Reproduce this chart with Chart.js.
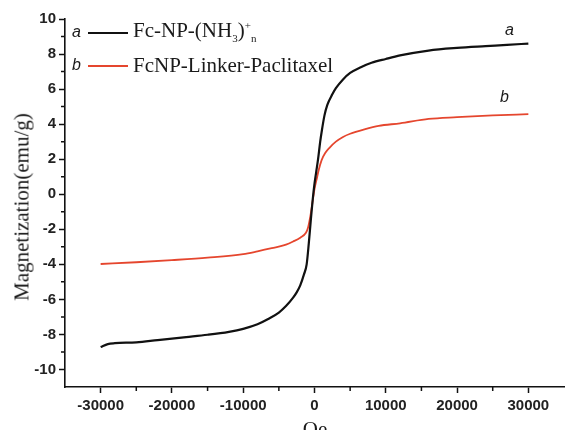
<!DOCTYPE html>
<html>
<head>
<meta charset="utf-8">
<script src="https://cdn.jsdelivr.net/npm/chart.js@4/dist/chart.umd.min.js"></script>
<style>
    html, body { margin: 0; padding: 0; background: #fff; }
    #wrap { position: relative; width: 565px; height: 430px; overflow: hidden; }
    #chart { position: absolute; left: 0; top: 0; }
    .serif { position: absolute; font-family: "Liberation Serif", "Times New Roman", serif; color: #1a1a1a; white-space: nowrap; }
    .tag { position: absolute; font-family: "Liberation Sans", Arial, sans-serif; font-style: italic; font-size: 16px; color: #1a1a1a; }
    .swatch { position: absolute; height: 0; width: 40px; }
    #yTitle { left: 22px; top: 207px; font-size: 21px; transform: translate(-50%, -50%) rotate(-90deg); }
    #xTitle { left: 315px; top: 417px; font-size: 21px; transform: translateX(-50%); }
    sub, sup { font-size: 11px; }
</style>
</head>
<body>
<div id="wrap">
    <canvas id="chart" width="565" height="430"></canvas>
    <div class="serif" id="yTitle">Magnetization(emu/g)</div>
    <div class="serif" id="xTitle">Oe</div>

    <span class="tag" style="left:72px; top:23px;">a</span>
    <div class="swatch" style="left:88px; top:32px; border-top:2px solid #111;"></div>
    <div class="serif" style="left:133px; top:18px; font-size:21px;">Fc-NP-(NH<sub>3</sub>)<sup>+</sup><sub>n</sub></div>

    <span class="tag" style="left:72px; top:56px;">b</span>
    <div class="swatch" style="left:88px; top:65px; border-top:2px solid #e5462e;"></div>
    <div class="serif" style="left:133px; top:53px; font-size:21px;">FcNP-Linker-Paclitaxel</div>

    <span class="tag" style="left:505px; top:21px;">a</span>
    <span class="tag" style="left:500px; top:88px;">b</span>
</div>
<script>
    // Series a: Fc-NP-(NH3)+n
    const fieldA = [-30000, -29000, -28000, -25000, -22000, -18000, -15000, -12000, -10000, -8000,
        -6500, -5000, -4000, -3000, -2500, -2000, -1500, -1100, -800, -500,
        -250, 0, 250, 500, 800, 1000, 1400, 1800, 2500, 3000,
        4000, 5000, 6500, 8000, 10000, 12000, 16000, 20000, 24000, 27000, 30000];
    const magA = [-8.72, -8.55, -8.5, -8.45, -8.32, -8.15, -8.02, -7.85, -7.68, -7.42,
        -7.12, -6.75, -6.38, -5.9, -5.6, -5.2, -4.6, -4.0, -2.8, -1.4,
        -0.3, 0.6, 1.3, 2.0, 3.0, 3.55, 4.5, 5.1, 5.7, 6.05,
        6.55, 6.92, 7.25, 7.5, 7.72, 7.92, 8.2, 8.35, 8.45, 8.52, 8.6];

    // Series b: FcNP-Linker-Paclitaxel
    const fieldB = [-30000, -25000, -20000, -15000, -10000, -8000, -6000, -4000, -3000, -2000,
        -1200, -900, -600, -300, 0, 300, 600, 1000, 1500, 2100,
        3000, 4000, 5000, 7000, 9000, 12000, 16000, 20000, 25000, 30000];
    const magB = [-3.98, -3.88, -3.76, -3.62, -3.42, -3.26, -3.08, -2.88, -2.7, -2.48,
        -2.2, -1.9, -1.3, -0.5, 0.3, 0.85, 1.4, 1.95, 2.35, 2.65,
        3.0, 3.27, 3.45, 3.7, 3.9, 4.05, 4.3, 4.4, 4.5, 4.57];

    const xMajor = [-30000, -20000, -10000, 0, 10000, 20000, 30000];
    const yMajor = [-10, -8, -6, -4, -2, 0, 2, 4, 6, 8, 10];

    const toPoints = (xs, ys) => xs.map((x, i) => ({ x: x, y: ys[i] }));

    // short minor tick marks between the labelled ones
    const minorTicks = {
        id: 'minorTicks',
        afterDraw(chart) {
            const ctx = chart.ctx;
            const xs = chart.scales.x;
            const ys = chart.scales.y;
            ctx.save();
            ctx.strokeStyle = '#111';
            ctx.lineWidth = 1.5;
            ctx.beginPath();
            for (let v = -25000; v <= 25000; v += 10000) {
                const px = xs.getPixelForValue(v);
                ctx.moveTo(px, xs.top);
                ctx.lineTo(px, xs.top + 4);
            }
            for (let v = -9; v <= 9; v += 2) {
                const py = ys.getPixelForValue(v);
                ctx.moveTo(ys.right, py);
                ctx.lineTo(ys.right - 4, py);
            }
            ctx.stroke();
            ctx.restore();
        }
    };

    new Chart(document.getElementById('chart').getContext('2d'), {
        type: 'scatter',
        data: {
            datasets: [{
                label: 'a',
                data: toPoints(fieldA, magA),
                showLine: true,
                borderColor: '#111',
                borderWidth: 2.2,
                pointRadius: 0,
                cubicInterpolationMode: 'monotone'
            }, {
                label: 'b',
                data: toPoints(fieldB, magB),
                showLine: true,
                borderColor: '#e5462e',
                borderWidth: 1.8,
                pointRadius: 0,
                cubicInterpolationMode: 'monotone'
            }]
        },
        options: {
            responsive: false,
            animation: false,
            layout: { padding: { top: 19, right: 1, left: 0, bottom: 0 } },
            plugins: {
                legend: { display: false },
                tooltip: { enabled: false }
            },
            scales: {
                x: {
                    type: 'linear',
                    min: -35000,
                    max: 35000,
                    afterBuildTicks: scale => { scale.ticks = xMajor.map(v => ({ value: v })); },
                    afterFit: scale => { scale.height = 43; },
                    border: { color: '#111', width: 1.6 },
                    grid: { drawOnChartArea: false, tickLength: 6, tickWidth: 1.5, tickColor: '#111' },
                    ticks: {
                        autoSkip: false,
                        maxRotation: 0,
                        padding: 4,
                        color: '#222',
                        font: { family: 'Liberation Sans', size: 15, weight: 'bold' },
                        callback: v => String(v)
                    }
                },
                y: {
                    min: -11,
                    max: 10,
                    afterBuildTicks: scale => { scale.ticks = yMajor.map(v => ({ value: v })); },
                    afterFit: scale => { scale.width = 65; },
                    border: { color: '#111', width: 1.6 },
                    grid: { drawOnChartArea: false, tickLength: 6, tickWidth: 1.5, tickColor: '#111' },
                    ticks: {
                        autoSkip: false,
                        padding: 3,
                        color: '#222',
                        font: { family: 'Liberation Sans', size: 15, weight: 'bold' },
                        callback: v => String(v)
                    }
                }
            }
        },
        plugins: [minorTicks]
    });
</script>
</body>
</html>
